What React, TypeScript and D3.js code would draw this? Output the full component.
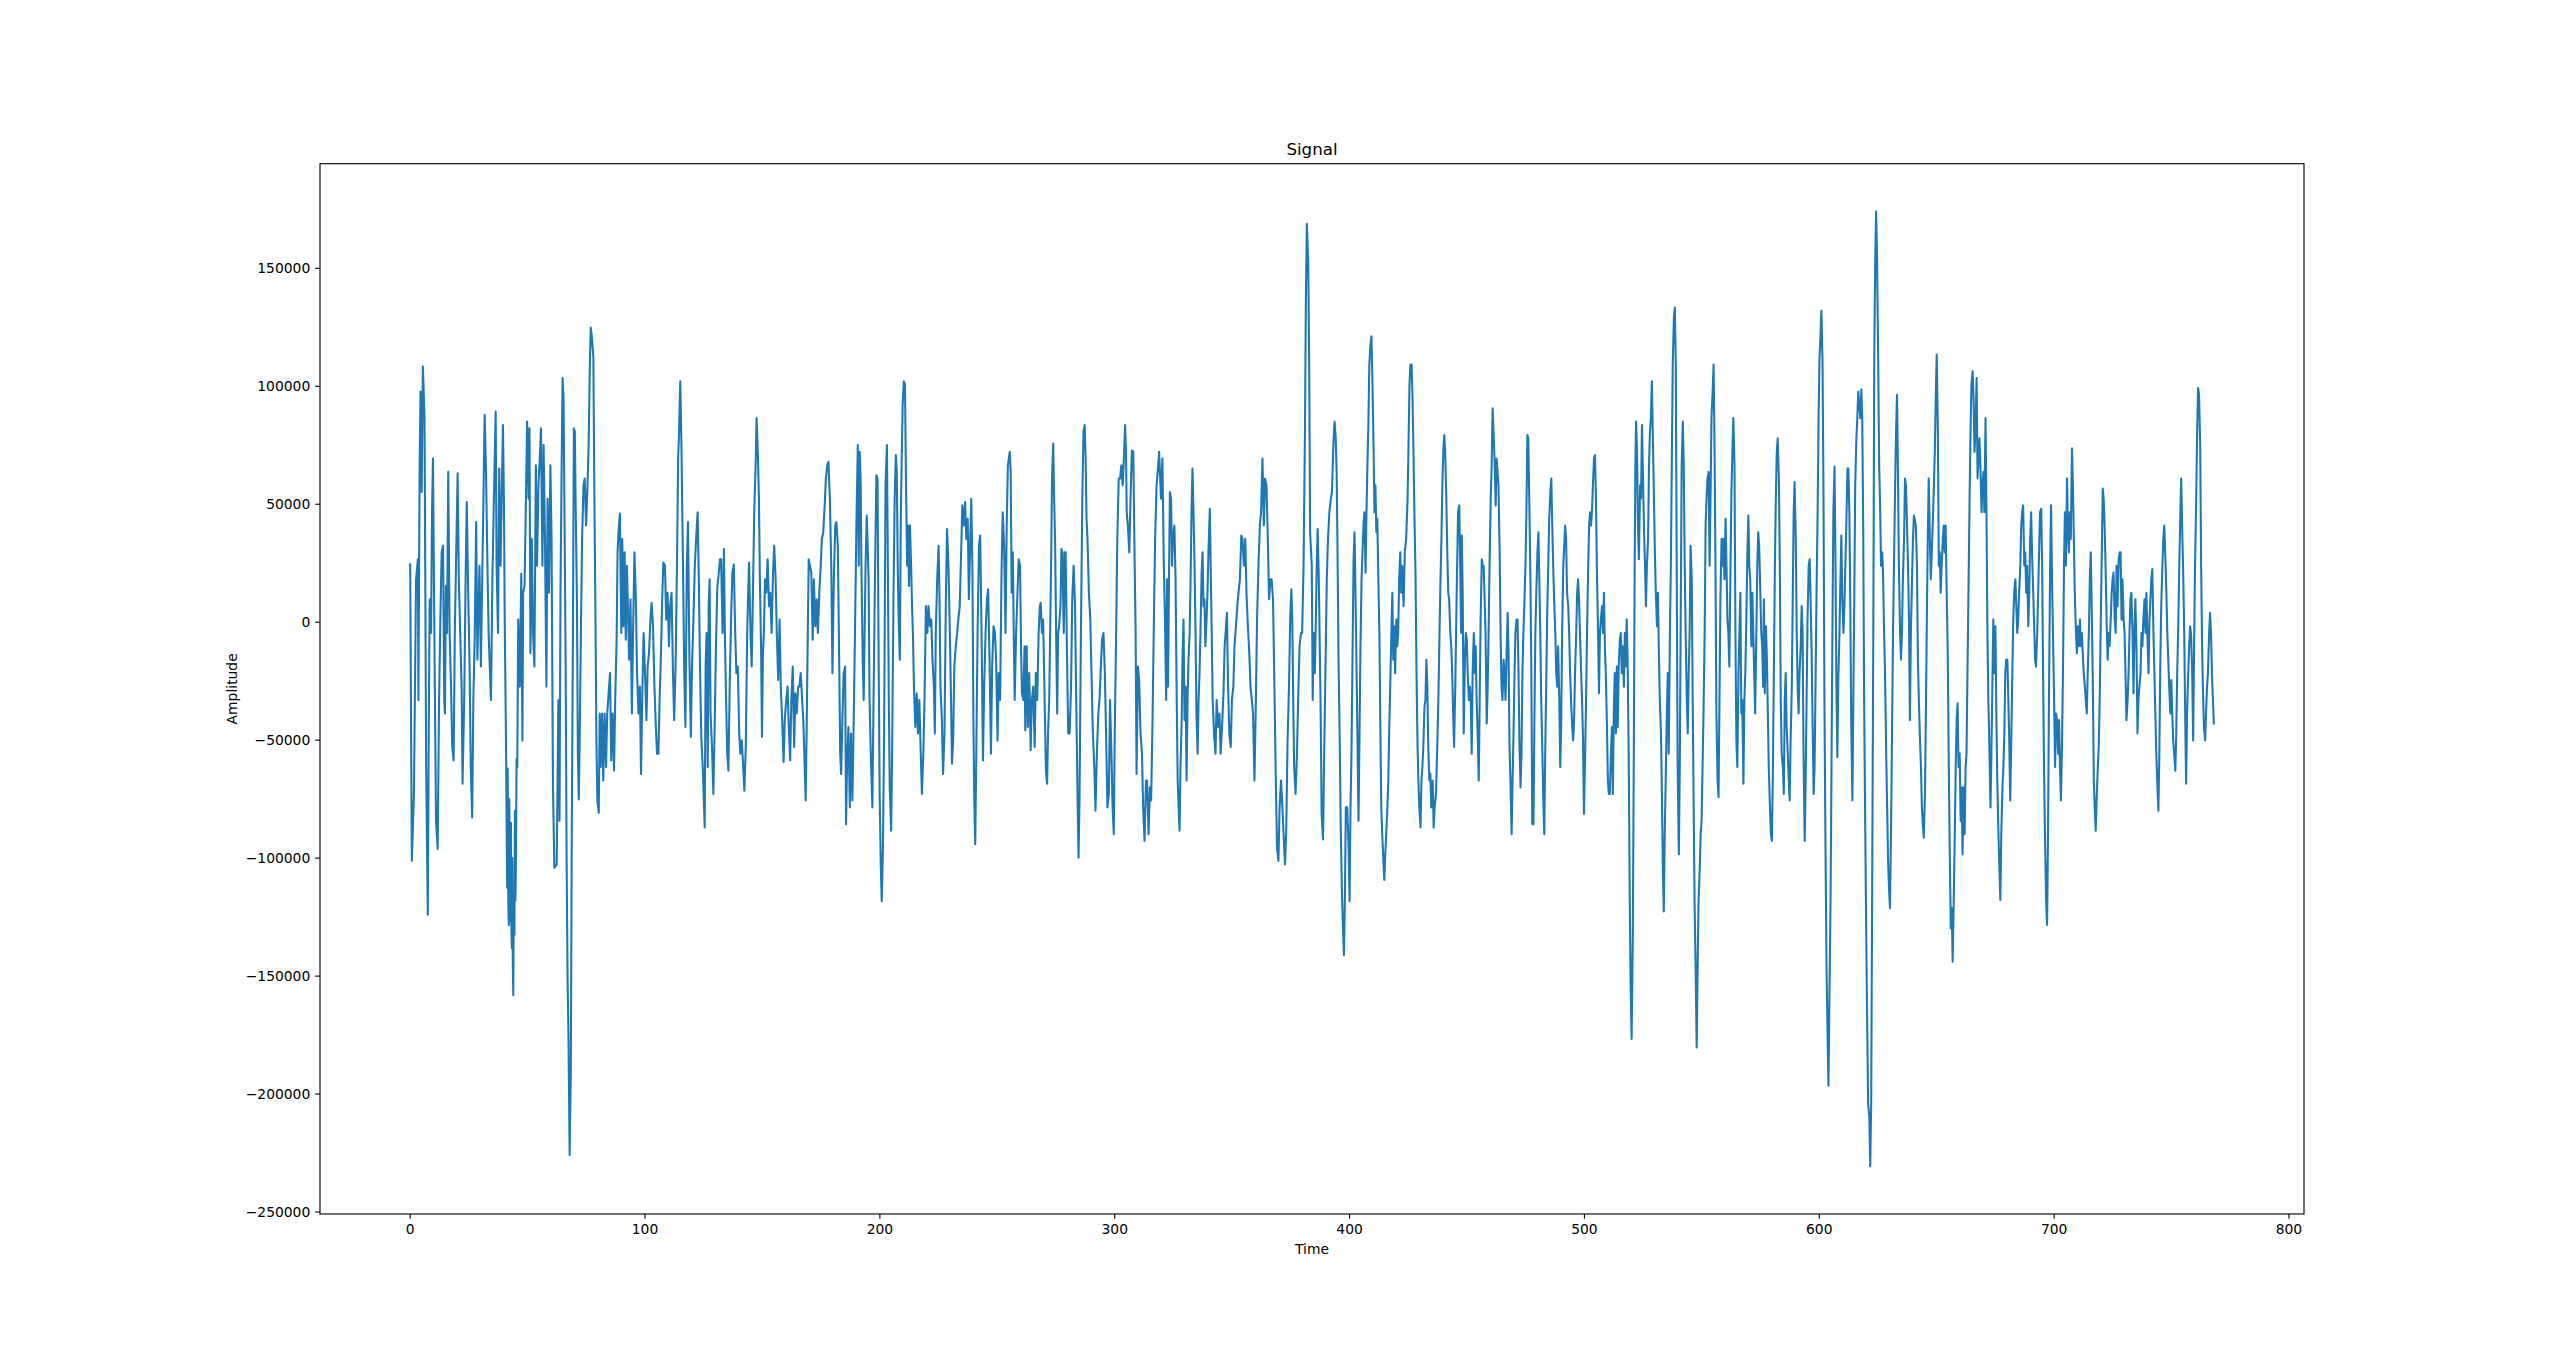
import React from 'react';
import * as d3 from 'd3';

const xTicks = [0, 100, 200, 300, 400, 500, 600, 700, 800];
const yTicks = [-250000, -200000, -150000, -100000, -50000, 0, 50000, 100000, 150000];
const chartTitle = 'Signal';
const xLabel = 'Time';
const yLabel = 'Amplitude';

// [time, amplitude]
const sig000: [number, number][] = [
[0,24500],[0.7,-101200],[1.6,-72800],[2.5,18200],[3.3,26700],[3.5,-33000],[4.0,63700],[4.4,97800],[4.9,55200],[5.4,108400],[6.1,86500],[6.4,23900],[6.8,-61400],[7.5,-124000],[7.9,-47200],[8.3,9700],[8.9,-4600],[9.3,46600],[9.7,69400],[10.3,-4600],[11.0,-84200],[11.7,-96100],[12.3,-33000],[12.8,-1700],[13.4,29600],[14.0,32400],[14.5,-33000],[14.8,-38700],[15.2,15400],[15.7,-4600],[16.2,63700],[16.8,-4600],[17.4,-27300],[17.9,-52900],[18.5,-58600],[19.0,-4600],[19.6,29600],[20.2,63100],[20.7,18200],[21.3,-4600],[21.9,-27300],[22.3,-68500],[23.0,-33000],[23.6,18200],[24.1,50900],[24.7,12500],[25.3,-18800],[25.8,-61400],[26.4,-82800],[26.9,-33000],[27.5,-4600],[28.1,42400],[28.6,-15900],[29.5,23900],[30.1,-18800],[30.8,26700],[31.2,52300],[31.7,87900],[32.3,63700],[32.9,23900],[33.4,-4600],[34.0,-21600],[34.4,-33000],[35.0,18200],[35.7,55200],[36.4,89300],[36.8,23900],[37.4,-4600],[37.9,65100],[38.5,23900],[38.9,49500],[39.5,83600],[39.9,52300],[40.3,-4600],[40.8,-50100],[41.1,-90000],[41.3,-112600],[41.5,-62000],[41.8,-120000],[42.0,-128300],[42.2,-75000],[42.5,-118000],[42.7,-126800],[42.9,-85000],[43.1,-130000],[43.3,-138200],[43.5,-100000],[43.7,-145000],[43.9,-158100],[44.1,-115000],[44.4,-132500],[44.6,-80000],[44.8,-118000],[45.0,-104100],[45.3,-58000],[45.6,-61400],[46.0,1100],[46.7,-27300],[47.3,20500],[47.8,-50100],[48.1,12500],[48.7,15400],[49.2,46600],[49.8,85000],[50.4,52300],[50.8,82200],[51.2,-13100],[51.8,35300],[52.3,-4600],[52.9,-18800],[53.5,66500],[54.0,23900],[54.6,58000],[55.2,69400],[55.7,82200],[56.3,23900],[56.8,75100],[57.4,35300],[58.0,-27300],[58.5,52300],[59.1,12500],[59.7,66500],[60.2,35300],[60.8,-70000],[61.4,-104100]
];

const sig062: [number, number][] = [
[62.4,-102700],[63.1,-33000],[63.6,-84200],[64.0,12500],[64.5,66500],[64.9,103500],[65.3,95000],[65.7,46600],[66.2,-18800],[66.6,-98400],[67.0,-149600],[67.4,-175200],[67.9,-225800],[68.4,-189400],[68.8,-89900],[69.3,-4600],[69.7,82200],[70.1,80800],[70.5,46600],[71.0,9700],[71.4,-55700],[71.8,-75100],[72.2,-47200],[72.7,-4600],[73.2,35300],[73.8,58000],[74.3,60900],[74.9,41000],[75.5,58000],[76.0,75100],[76.5,109200],[76.9,124900],[77.4,120600],[78.0,112100],[78.4,58000],[78.9,1100],[79.3,-50100],[79.7,-75600],[80.3,-80800],[80.7,-38700],[81.1,-61400],[81.7,-38700],[82.2,-67100],[82.8,-38700],[83.4,-61400],[83.9,-38700],[84.5,-30100],[85.1,-21600],[85.6,-58600],[86.2,-38700],[86.8,-62900],[87.3,-33000],[87.9,-7400],[88.3,29600],[88.7,38100],[89.3,46100],[89.9,-4600],[90.3,35300],[90.8,-1700],[91.3,29600],[91.8,-7400],[92.3,23900],[92.7,6800],[93.2,-15900],[93.8,9700],[94.4,-38700],[94.9,-4600],[95.5,29600],[96.1,9700],[96.6,-21600],[97.2,-38700],[97.8,-27300],[98.3,-64300],[98.9,-27300],[99.4,-4600],[100.0,-21600],[100.6,-41500],[101.1,-18800],[101.7,-13100],[102.3,1100],[102.8,8200],[103.4,-1700],[104.0,-27300],[104.5,-41500],[105.1,-55700],[105.7,-55700],[106.2,-33000],[106.8,-13100],[107.3,9700],[107.8,25300],[108.5,23900],[109.0,1100],[109.6,12500],[110.2,-10200],[110.7,6800],[111.3,12500],[111.9,-21600],[112.4,-41500],[113.0,-18800],[113.6,23900],[114.1,69400],[114.5,80800],[115.0,102100],[115.5,75100],[116.1,29600],[116.7,-21600],[117.2,-44400],[117.8,23900],[118.3,42400],[118.9,-15900],[119.5,-48600],[120.0,-18800],[120.6,1100],[121.2,23900],[121.9,38100],[122.4,46600],[122.9,18200],[123.4,-18800],[124.0,-50100],[124.6,-61400],[125.4,-87000],[125.8,-18800]
];

const sig126: [number, number][] = [
[126.2,-4600],[126.7,-61400],[127.1,6800],[127.5,18200],[127.9,-38700],[128.5,-52900],[129.1,-72800],[129.6,-47200],[130.2,-10200],[130.8,15400],[131.3,19600],[131.9,26700],[132.4,26700],[133.0,-4600],[133.6,31000],[134.0,-4600],[134.4,-27300],[135.0,-55700],[135.5,-62900],[136.1,-24500],[136.7,4000],[137.2,21000],[137.8,24500],[138.4,-4600],[138.9,-21600],[139.5,-18800],[140.1,-47200],[140.6,-55700],[141.2,-50100],[141.8,-61400],[142.3,-71400],[142.9,-52900],[143.5,-4600],[143.9,12500],[144.3,25300],[144.9,-4600],[145.4,-18800],[146.0,15400],[146.5,46600],[147.1,66500],[147.5,86500],[148.1,69400],[148.5,52300],[148.9,18200],[149.4,-10200],[149.8,-48600],[150.2,-13100],[150.6,-4600],[151.1,18200],[151.6,12500],[152.2,26700],[152.8,6800],[153.3,12500],[153.9,-4600],[154.5,21000],[155.0,32400],[155.6,18200],[156.1,-4600],[156.7,-24500],[157.3,1100],[157.8,-27300],[158.4,-41500],[159.0,-59200],[159.5,-41500],[160.1,-33000],[160.7,-27300],[161.2,-44400],[161.8,-58600],[162.3,-33000],[162.9,-18800],[163.5,-52900],[164.0,-30100],[164.6,-38700],[165.2,-27300],[165.7,-27300],[166.3,-21600],[166.9,-33000],[167.4,-41500],[168.0,-61400],[168.4,-75600],[168.8,-47200],[169.3,-4600],[169.7,26700],[170.2,23900],[170.8,21000],[171.4,-7400],[171.9,18200],[172.5,-1700],[173.1,9700],[173.6,-4600],[174.2,12500],[174.8,23900],[175.3,35300],[175.9,38100],[176.5,49500],[177.0,60900],[177.6,66500],[178.1,68000],[178.7,52300],[179.3,23900],[179.8,-21600],[180.4,18200],[181.0,41000],[181.5,42400],[182.1,32400],[182.7,-18800],[183.1,-55700],[183.5,-64300],[184.1,-38700],[184.6,-21600],[185.2,-18800],[185.6,-85600],[186.0,-61400],[186.6,-44400],[187.2,-78500],[187.7,-47200],[188.3,-75600],[188.9,-38700],[189.4,-4600],[190.0,41000]
];

const sig190: [number, number][] = [
[190.6,75100],[191.0,23900],[191.4,72200],[191.8,60900],[192.2,18200],[192.7,-15900],[193.1,-33000],[193.5,-4600],[193.9,23900],[194.4,45200],[194.8,32400],[195.2,18200],[195.6,-33000],[196.2,-58600],[196.8,-78500],[197.3,-33000],[197.9,18200],[198.5,62300],[199.0,60900],[199.4,-4600],[199.9,-72800],[200.4,-104100],[200.8,-118300],[201.3,-95600],[201.8,-47200],[202.4,58000],[203.0,75100],[203.4,23900],[203.8,-33000],[204.2,-70000],[204.8,-88400],[205.2,-55700],[205.8,12500],[206.3,52300],[206.8,70800],[207.2,63700],[207.6,23900],[208.0,1100],[208.5,-15900],[208.9,43800],[209.3,69400],[209.7,92100],[210.2,102100],[210.7,100700],[211.1,60900],[211.6,23900],[212.0,41000],[212.4,15400],[212.8,41000],[213.3,23900],[213.7,6800],[214.1,-6000],[214.5,-27300],[215.1,-44400],[215.7,-30100],[216.2,-47200],[216.8,-33000],[217.4,-55700],[217.9,-72800],[218.5,-55700],[219.0,-33000],[219.6,6800],[220.2,-4600],[220.7,6800],[221.3,-1700],[221.9,1100],[222.4,-15900],[223.0,-27300],[223.4,-47200],[223.8,-4600],[224.4,18200],[225.0,32400],[225.4,9700],[225.8,-27300],[226.4,-41500],[226.9,-64300],[227.5,-47200],[228.1,9700],[228.6,39500],[229.2,23900],[229.8,-4600],[230.3,-33000],[230.7,-60000],[231.2,-50100],[231.7,-18800],[232.3,-10200],[232.9,-4600],[233.4,1100],[234.0,6800],[234.6,29600],[235.1,49500],[235.7,41000],[236.3,50900],[236.8,35300],[237.4,43800],[237.9,9700],[238.5,35300],[238.9,52300],[239.4,23900],[239.8,-38700],[240.2,-75600],[240.6,-94100],[241.0,-61400],[241.6,-4600],[242.2,32400],[242.7,36700],[243.3,-4600],[243.9,-58600],[244.4,-27300],[245.0,-4600],[245.6,9700],[246.1,13900],[246.7,-15900],[247.3,-55700],[247.8,-18800],[248.4,-1700],[249.0,-4600],[249.5,-15900],[250.1,-50100],[250.6,-21600],[251.2,-33000],[251.8,21000],[252.3,46600],[252.9,32400],[253.5,-4600],[254.0,41000],[254.5,66500]
];

const sig255: [number, number][] = [
[255.3,72200],[255.7,63700],[256.1,12500],[256.6,29600],[257.0,-4600],[257.4,-33000],[258.0,-4600],[258.5,9700],[259.1,26700],[259.7,23900],[260.1,-10200],[260.5,-30100],[261.1,-33000],[261.6,-10200],[261.9,-45800],[262.5,-10200],[263.0,-44400],[263.6,-21600],[264.2,-54300],[264.7,-33000],[265.3,-27300],[265.9,-52900],[266.4,-21600],[267.0,-33000],[267.6,-4600],[268.1,6800],[268.5,8200],[269.0,-4600],[269.5,1100],[270.1,-30100],[270.7,-62900],[271.2,-68500],[271.6,-47200],[272.1,-33000],[272.5,-4600],[272.9,23900],[273.3,60900],[273.8,75700],[274.2,52300],[274.6,35300],[275.0,-1700],[275.5,-38700],[275.9,-4600],[276.3,-1700],[276.9,6800],[277.3,31000],[277.7,29600],[278.3,-4600],[278.7,29600],[279.1,29600],[279.7,-15900],[280.2,-47200],[280.8,-47200],[281.4,-27300],[281.9,9700],[282.5,23900],[283.1,6800],[283.6,-33000],[284.2,-75600],[284.6,-99800],[285.0,-75600],[285.6,-4600],[286.2,52300],[286.7,80800],[287.2,83600],[287.6,69400],[288.0,43800],[288.4,35300],[289.0,12500],[289.6,1100],[290.1,-21600],[290.7,-47200],[291.3,-61400],[291.8,-79900],[292.4,-55700],[293.0,-38700],[293.5,-33000],[294.1,-18800],[294.6,-7400],[295.2,-4600],[295.8,-21600],[296.3,-47200],[296.9,-78500],[297.5,-72800],[298.0,-33000],[298.6,-55700],[299.1,-78500],[299.6,-89900],[300.0,-47200],[300.6,-4600],[301.1,35300],[301.7,60900],[302.3,60900],[302.8,66500],[303.4,58000],[304.0,72200],[304.4,83600],[304.8,72200],[305.1,46600],[305.6,41000],[306.2,29600],[306.8,55200],[307.3,72800],[307.9,72200],[308.5,23900],[308.9,-4600],[309.3,-64300],[309.9,-18800],[310.4,-24500],[311.0,-47200],[311.6,-55700],[312.1,-78500],[312.7,-92700],[313.3,-67100],[313.8,-67100],[314.4,-89900],[315.0,-70000],[315.5,-75600],[316.1,-41500],[316.6,-4600],[317.2,35300],[317.8,58000],[318.3,63700],[318.9,72200]
];

const sig319: [number, number][] = [
[319.7,52300],[320.3,69400],[320.9,23900],[321.4,1100],[321.9,-33000],[322.3,18200],[322.7,-27300],[323.1,18200],[323.5,55200],[324.0,52300],[324.4,23900],[324.8,35300],[325.4,41000],[325.9,18200],[326.4,-33000],[326.8,-67100],[327.2,-78500],[327.6,-88400],[328.0,-61400],[328.5,-41500],[328.9,-13100],[329.3,1100],[329.7,-41500],[330.2,-27300],[330.6,-67100],[331.0,-33000],[331.4,-15900],[331.9,-4600],[332.3,18200],[332.7,46600],[333.1,65100],[333.6,43800],[334.0,23900],[334.4,-4600],[334.8,-38700],[335.3,-55700],[335.7,-33000],[336.1,-21600],[336.5,-4600],[337.0,21000],[337.4,29600],[337.8,6800],[338.2,9700],[338.6,-10200],[339.1,1100],[339.5,12500],[339.9,29600],[340.5,48100],[340.9,21000],[341.3,-4600],[341.7,-33000],[342.3,-47200],[342.9,-55700],[343.4,-33000],[344.0,-44400],[344.6,-38700],[345.1,-55700],[345.7,-44400],[346.3,-30100],[346.8,-10200],[347.4,-1700],[347.8,4000],[348.2,-24500],[348.8,-47200],[349.4,-52900],[349.9,-33000],[350.5,-27300],[351.0,-10200],[351.6,-1700],[352.2,6800],[352.7,12500],[353.3,18200],[353.9,36700],[354.4,35300],[355.0,23900],[355.6,35300],[356.1,12500],[356.7,-1700],[357.3,-13100],[357.8,-27300],[358.4,-33000],[358.9,-38700],[359.5,-67100],[360.1,-33000],[360.6,1100],[361.2,23900],[361.8,41000],[362.3,46600],[362.9,69400],[363.5,41000],[364.0,60900],[364.6,58000],[365.2,35300],[365.7,9700],[366.3,18200],[366.8,18200],[367.4,9700],[368.0,-27300],[368.5,-61400],[369.1,-95600],[369.7,-101200],[370.2,-78500],[370.8,-67100],[371.4,-78500],[371.9,-89900],[372.5,-102700],[373.0,-89900],[373.6,-50100],[374.2,-27300],[374.7,1100],[375.2,13900],[375.6,1100],[376.0,-33000],[376.4,-61400],[377.0,-72800],[377.6,-55700],[378.1,-33000],[378.7,-10200],[379.3,-4600],[379.8,-4600],[380.4,23900],[381.0,80800],[381.4,137600],[381.8,168900],[382.4,151900],[382.8,109200],[383.2,38100]
];

const sig384: [number, number][] = [
[383.9,23900],[384.3,-33000],[384.7,-4600],[385.2,-21600],[385.6,-1700],[386.0,23900],[386.4,39500],[386.9,18200],[387.3,-10200],[387.7,-38700],[388.1,-81300],[388.7,-92100],[389.1,-61400],[389.7,-21600],[390.3,18200],[390.8,35300],[391.4,46600],[392.0,52300],[392.5,55200],[393.1,75100],[393.6,85000],[394.1,77900],[394.5,63700],[394.9,26700],[395.3,-15900],[395.8,-50100],[396.2,-84200],[396.7,-112600],[397.2,-129700],[397.6,-141100],[398.0,-118300],[398.4,-78500],[399.0,-78500],[399.6,-95600],[400.0,-118300],[400.4,-78500],[400.8,-55700],[401.3,-10200],[401.7,26700],[402.1,38100],[402.5,12500],[403.0,-21600],[403.4,-52900],[403.8,-84200],[404.2,-50100],[404.6,-13100],[405.1,18200],[405.5,29600],[405.9,41000],[406.3,46600],[406.8,21000],[407.2,46600],[407.6,66500],[408.0,83600],[408.4,109200],[408.9,117700],[409.3,121200],[409.7,103500],[410.1,80800],[410.6,46600],[411.0,58000],[411.4,38100],[411.8,43800],[412.3,15400],[412.7,-4600],[413.1,-44400],[413.5,-78500],[413.9,-89900],[414.4,-101200],[414.8,-109200],[415.2,-98400],[415.6,-89900],[416.1,-78500],[416.5,-67100],[416.9,-44400],[417.3,-27300],[417.8,-4600],[418.2,12500],[418.6,-15900],[419.0,-1700],[419.4,-21600],[419.9,1100],[420.3,-10200],[420.7,-4600],[421.1,18200],[421.6,29600],[422.0,12500],[422.4,23900],[423.0,6800],[423.5,29600],[424.1,35300],[424.7,52300],[425.1,75100],[425.5,100700],[425.9,109200],[426.4,109200],[426.8,95000],[427.2,72200],[427.6,46600],[428.1,18200],[428.5,-21600],[428.9,-50100],[429.3,-67100],[429.7,-78500],[430.2,-87000],[430.6,-67100],[431.0,-61400],[431.4,-52900],[431.9,-35800],[432.3,-33000],[432.7,-15900],[433.1,-27300],[433.5,-52900],[434.0,-67100],[434.4,-64300],[434.8,-78500],[435.4,-67100],[435.8,-87000],[436.2,-78500],[436.8,-72800],[437.4,-50100],[437.8,-33000],[438.2,-10200],[438.6,12500],[439.1,35300],[439.5,58000],[439.9,72200],[440.3,79300],[440.7,72200],[441.2,52300],[441.6,29600],[442.0,12500],[442.4,9700],[442.9,-4600],[443.3,-10200],[443.7,-21600],[444.1,-38700],[444.5,-52900],[445.0,-27300],[445.4,-1700],[445.8,23900],[446.2,46600],[446.7,49500],[447.1,23900],[447.5,-4600]
];

const sig448: [number, number][] = [
[447.8,36700],[448.2,9700],[448.6,-47200],[449.1,-15900],[449.5,-4600],[449.9,-7400],[450.3,-21600],[450.8,-33000],[451.2,-27300],[451.6,-33000],[452.0,-55700],[452.4,-21600],[452.9,-4600],[453.3,-21600],[453.7,-10200],[454.1,-33000],[454.6,-50100],[455.0,-67100],[455.4,-33000],[455.8,1100],[456.3,26700],[456.7,23900],[457.1,23900],[457.5,9700],[457.9,-4600],[458.4,-42900],[458.8,-27300],[459.2,-4600],[459.6,23900],[460.1,52300],[460.5,66500],[460.9,90700],[461.3,80800],[461.8,66500],[462.2,49500],[462.6,69400],[463.0,63700],[463.4,58000],[463.9,29600],[464.3,-4600],[464.7,-27300],[465.1,-33000],[465.6,-15900],[466.0,-21600],[466.4,-33000],[466.8,-15900],[467.3,4000],[467.7,-13100],[468.1,-52900],[468.5,-67100],[469.0,-89900],[469.4,-67100],[469.8,-47200],[470.2,-24500],[470.6,-4600],[471.1,1100],[471.5,1100],[471.9,-18800],[472.3,-50100],[472.8,-70000],[473.2,-55700],[473.6,-21600],[474.0,-4600],[474.5,9700],[474.9,23900],[475.3,46600],[475.7,79300],[476.1,77900],[476.6,46600],[477.0,18200],[477.4,-21600],[477.8,-85600],[478.3,-85600],[478.7,-41500],[479.1,-4600],[479.5,12500],[480.0,29600],[480.4,38100],[480.8,18200],[481.2,-4600],[481.6,-33000],[482.1,-55700],[482.5,-75600],[482.9,-89900],[483.3,-55700],[483.8,-21600],[484.2,6800],[484.6,23900],[485.0,43800],[485.5,55200],[485.9,60900],[486.3,41000],[486.7,23900],[487.1,9700],[487.6,-4600],[488.0,-21600],[488.4,-27300],[488.8,-10200],[489.3,-33000],[489.7,-61400],[490.1,-44400],[490.5,-4600],[491.0,23900],[491.4,32400],[491.8,41000],[492.2,35300],[492.6,12500],[493.1,6800],[493.5,-4600],[493.9,-21600],[494.3,-33000],[494.8,-44400],[495.2,-50100],[495.6,-41500],[496.0,-21600],[496.5,-4600],[496.9,12500],[497.3,18200],[497.7,9700],[498.1,-4600],[498.6,-21600],[499.0,-33000],[499.4,-50100],[499.8,-81300],[500.3,-55700],[500.7,-33000],[501.1,-4600],[501.5,18200],[502.0,41000],[502.4,46600],[502.8,41000],[503.2,46600],[503.6,58000],[504.1,69400],[504.5,70800],[504.9,52300],[505.3,23900],[505.8,-4600],[506.2,-30100],[506.6,-4600],[507.0,1100],[507.5,6800],[507.9,-4600],[508.3,12500],[508.7,-10200],[509.1,-21600],[509.6,-44400],[510.0,-67100],[510.4,-72800],[510.8,-72800],[511.3,-55700],[511.7,-44400]
];

const sig512: [number, number][] = [
[512.1,-72800],[512.5,-38700],[512.9,-21600],[513.4,-47200],[513.8,-18800],[514.2,-44400],[514.6,-18800],[515.1,-7400],[515.5,-4600],[515.9,-21600],[516.3,-10200],[516.8,-27300],[517.2,-4600],[517.6,-18800],[518.0,1100],[518.4,-15900],[518.9,-61400],[519.3,-118300],[519.7,-155300],[520.1,-176600],[520.6,-132500],[521.0,-61400],[521.4,23900],[521.7,66500],[522.0,85000],[522.4,72200],[522.8,41000],[523.2,26700],[523.7,58000],[524.1,52300],[524.5,83600],[524.9,63700],[525.4,38100],[525.8,23900],[526.2,6800],[526.6,23900],[527.1,35300],[527.5,66500],[527.9,80800],[528.3,86500],[528.7,102100],[529.2,75100],[529.6,52300],[530.0,29600],[530.4,12500],[530.9,-1700],[531.3,12500],[531.7,-13100],[532.1,-33000],[532.6,-47200],[533.0,-72800],[533.4,-104100],[533.8,-122600],[534.2,-89900],[534.7,-61400],[535.1,-38700],[535.5,-21600],[535.9,-55700],[536.4,-4600],[536.8,23900],[537.2,66500],[537.6,109200],[538.1,129100],[538.5,133400],[538.9,109200],[539.3,23900],[539.7,-61400],[540.2,-98400],[540.6,-61400],[541.0,1100],[541.4,66500],[541.9,85000],[542.3,66500],[542.7,23900],[543.1,-4600],[543.6,-33000],[544.0,-47200],[544.4,-21600],[544.8,-4600],[545.2,32400],[545.7,18200],[546.1,-33000],[546.5,-75600],[546.9,-118300],[547.4,-149600],[547.8,-180300],[548.2,-146800],[548.6,-118300],[549.1,-104100],[549.5,-89900],[549.9,-84200],[550.3,-61400],[550.7,-38700],[551.2,-4600],[551.6,41000],[552.0,52300],[552.4,60900],[552.9,63700],[553.3,23900],[553.7,52300],[554.1,86500],[554.6,97800],[555.0,109200],[555.4,75100],[555.8,23900],[556.2,-38700],[556.7,-67100],[557.1,-74200],[557.5,-33000],[557.9,9700],[558.4,35300],[558.8,23900],[559.2,35300],[559.6,18200],[560.1,43800],[560.5,23900],[560.9,1100],[561.3,-4600],[561.7,-18800],[562.2,23900],[562.6,55200],[563.0,72200],[563.4,86500],[563.9,66500],[564.3,-4600],[564.7,-50100],[565.1,-61400],[565.6,-21600],[566.0,-4600],[566.4,12500],[566.8,-38700],[567.2,-33000],[567.7,-68500],[568.1,-33000],[568.5,-21600],[568.9,-1700],[569.4,29600],[569.8,45200],[570.2,23900],[570.6,18200],[571.1,-10200],[571.5,12500],[571.9,-4600],[572.3,-21600],[572.7,-38700],[573.2,-4600],[573.6,23900],[574.0,38100],[574.4,32400],[574.9,12500],[575.3,-4600],[575.7,-10200],[576.1,-27300]
];

const sig576: [number, number][] = [
[576.4,9700],[576.8,-30100],[577.3,-1700],[577.7,-15900],[578.1,-38700],[578.5,-61400],[579.0,-78500],[579.4,-89900],[579.8,-92700],[580.2,-67100],[580.6,-27300],[581.1,23900],[581.5,52300],[581.9,72200],[582.3,77900],[582.8,60900],[583.2,23900],[583.6,-33000],[584.0,-55700],[584.5,-61400],[584.9,-72800],[585.3,-33000],[585.7,-21600],[586.1,-44400],[586.6,-55700],[587.0,-67100],[587.4,-75600],[587.8,-50100],[588.3,-27300],[588.7,9700],[589.1,46600],[589.5,59400],[590.0,35300],[590.4,-4600],[590.8,-27300],[591.2,-38700],[591.6,-21600],[592.1,-10200],[592.5,6800],[592.9,-4600],[593.3,-55700],[593.8,-92700],[594.2,-67100],[594.6,-33000],[595.0,1100],[595.5,23900],[595.9,26700],[596.3,9700],[596.7,-10200],[597.1,-38700],[597.6,-72800],[598.0,-61400],[598.4,-27300],[598.8,9700],[599.3,46600],[599.7,86500],[600.1,112100],[600.5,120600],[600.9,132000],[601.4,109200],[601.8,52300],[602.2,-33000],[602.6,-89900],[603.1,-146800],[603.5,-172300],[603.9,-196500],[604.3,-161000],[604.8,-118300],[605.2,-61400],[605.6,-4600],[606.0,46600],[606.5,66000],[606.9,23900],[607.3,-27300],[607.7,-57200],[608.1,-24500],[608.6,-4600],[609.0,18200],[609.4,36700],[609.8,9700],[610.3,-4600],[610.7,6800],[611.1,23900],[611.5,41000],[612.0,65100],[612.4,65100],[612.8,46600],[613.2,9700],[613.6,-41500],[614.1,-75600],[614.5,-33000],[614.9,9700],[615.3,58000],[615.8,77900],[616.2,86500],[616.6,97800],[617.0,92100],[617.5,86500],[617.9,98700],[618.3,86500],[618.7,41000],[619.1,-33000],[619.6,-89900],[620.0,-132500],[620.4,-169500],[620.8,-204300],[621.3,-209300],[621.7,-230600],[622.1,-204300],[622.5,-118300],[623.0,-4600],[623.4,109200],[623.8,151900],[624.2,174100],[624.6,154700],[625.1,109200],[625.5,66500],[625.9,49500],[626.3,23900],[626.8,29600],[627.2,18200],[627.6,-4600],[628.0,-21600],[628.5,-55700],[628.9,-78500],[629.3,-101200],[629.7,-112600],[630.1,-121200],[630.6,-84200],[631.0,-44400],[631.4,-4600],[631.8,23900],[632.3,58000],[632.7,80800],[633.1,96400],[633.5,63700],[633.9,23900],[634.4,-4600],[634.8,-15900],[635.2,-4600],[635.6,18200],[636.1,35300],[636.5,60900],[636.9,58000],[637.3,43800],[637.8,23900],[638.2,1100],[638.6,-41500],[639.0,-4600],[639.5,18200],[639.9,35300],[640.3,45200]
];

const sig641: [number, number][] = [
[641.1,41000],[641.6,23900],[642.0,-15900],[642.4,-33000],[642.8,-47200],[643.3,-61400],[643.7,-78500],[644.1,-85600],[644.5,-91300],[645.0,-72800],[645.4,-38700],[645.8,1100],[646.2,35300],[646.6,60900],[647.1,35300],[647.5,18200],[647.9,29600],[648.3,41000],[648.8,58000],[649.2,72200],[649.6,95000],[650.0,113500],[650.5,80800],[650.9,23900],[651.3,29600],[651.7,12500],[652.1,23900],[652.6,35300],[653.0,41000],[653.4,29600],[653.8,41000],[654.3,9700],[654.7,-13100],[655.1,-55700],[655.5,-92700],[656.0,-129700],[656.4,-121200],[656.8,-143900],[657.2,-121200],[657.7,-89900],[658.1,-61400],[658.5,-41500],[658.9,-34400],[659.3,-61400],[659.8,-55700],[660.2,-84200],[660.6,-70000],[661.0,-98400],[661.5,-70000],[661.9,-89900],[662.3,-61400],[662.7,-55700],[663.1,-21600],[663.6,18200],[664.0,52300],[664.4,80800],[664.8,100700],[665.3,106400],[665.7,95000],[666.1,72200],[666.5,80800],[667.0,103500],[667.4,60900],[667.8,69400],[668.2,77900],[668.6,66500],[669.1,46600],[669.5,58000],[669.9,63700],[670.3,46600],[670.8,86500],[671.2,46600],[671.6,-4600],[672.0,-33000],[672.5,-55700],[672.9,-78500],[673.3,-55700],[673.7,-27300],[674.1,1100],[674.6,-21600],[675.0,-1700],[675.4,-38700],[675.8,-67100],[676.3,-89900],[676.7,-104100],[677.1,-117700],[677.5,-89900],[678.0,-70000],[678.4,-61400],[678.8,-47200],[679.2,-21600],[679.6,-15900],[680.1,-15900],[680.5,-33000],[680.9,-50100],[681.3,-75600],[681.8,-47200],[682.2,-21600],[682.6,1100],[683.0,12500],[683.5,18200],[683.9,6800],[684.3,-4600],[684.7,1100],[685.1,12500],[685.6,23900],[686.0,41000],[686.4,46600],[686.8,49500],[687.3,23900],[687.7,29600],[688.1,12500],[688.5,23900],[689.0,-1700],[689.4,12500],[689.8,35300],[690.2,46600],[690.6,29600],[691.1,12500],[691.5,-1700],[691.9,-15900],[692.3,-18800],[692.8,-4600],[693.2,12500],[693.6,29600],[694.0,46600],[694.5,48100],[694.9,23900],[695.3,-21600],[695.7,-61400],[696.1,-89900],[696.6,-118300],[697.0,-128300],[697.4,-89900],[697.8,-33000],[698.3,23900],[698.7,49500],[699.1,18200],[699.5,-4600],[700.0,-33000],[700.4,-61400],[700.8,-38700],[701.2,-41500],[701.7,-55700],[702.1,-41500],[702.5,-61400],[702.9,-75600],[703.3,-55700],[703.8,-18800],[704.2,23900],[704.6,46600]
];

const sig705: [number, number][] = [
[705.0,23900],[705.5,60900],[705.9,38100],[706.3,29600],[706.7,46600],[707.1,35300],[707.6,73700],[708.0,58000],[708.4,35300],[708.8,12500],[709.3,-4600],[709.7,-13100],[710.1,-1700],[710.5,-10200],[711.0,1100],[711.4,-10200],[711.8,-4600],[712.2,-13100],[712.6,-21600],[713.1,-27300],[713.5,-33000],[713.9,-38700],[714.3,-21600],[714.8,-4600],[715.2,18200],[715.6,29600],[716.0,6800],[716.5,-27300],[716.9,-67100],[717.3,-78500],[717.7,-88400],[718.1,-75600],[718.6,-61400],[719.0,-52900],[719.4,-33000],[719.8,-4600],[720.3,29600],[720.7,56600],[721.1,52300],[721.5,41000],[721.9,23900],[722.4,-1700],[722.8,-15900],[723.2,-4600],[723.6,-10200],[724.1,1100],[724.5,12500],[724.9,18200],[725.3,21000],[725.8,1100],[726.2,-4600],[726.6,23900],[727.0,6800],[727.5,26700],[727.9,29600],[728.3,29600],[728.7,1100],[729.1,18200],[729.6,1100],[730.0,-4600],[730.4,-21600],[730.8,-41500],[731.3,-33000],[731.7,-21600],[732.1,-4600],[732.5,9700],[732.9,12500],[733.4,-4600],[733.8,-30100],[734.2,-4600],[734.6,9700],[735.1,-13100],[735.5,-47200],[735.9,-33000],[736.3,-27300],[736.8,-21600],[737.2,-4600],[737.6,-10200],[738.0,1100],[738.5,9700],[738.9,-4600],[739.3,12500],[739.7,-4600],[740.2,-21600],[740.6,1100],[741.0,9700],[741.4,18200],[741.8,22500],[742.3,-4600],[742.7,-21600],[743.1,-38700],[743.5,-55700],[743.9,-67100],[744.4,-79900],[744.8,-55700],[745.2,-18800],[745.6,6800],[746.1,23900],[746.5,35300],[746.9,41000],[747.3,29600],[747.8,12500],[748.2,-4600],[748.6,-15900],[749.0,-27300],[749.5,-38700],[749.9,-24500],[750.3,-38700],[750.7,-50100],[751.1,-55700],[751.6,-62900],[752.0,-47200],[752.4,-21600],[752.8,-4600],[753.3,23900],[753.7,43800],[754.1,60900],[754.5,41000],[754.9,23900],[755.4,-4600],[755.8,-38700],[756.2,-68500],[756.6,-38700],[757.1,-21600],[757.5,-10200],[757.9,-1700],[758.3,-4600],[758.8,-21600],[759.2,-50100],[759.6,-10200],[760.0,23900],[760.5,52300],[760.9,80800],[761.3,99300],[761.7,96400],[762.2,75100],[762.6,23900],[763.0,-10200],[763.4,-30100],[763.8,-44400],[764.3,-50100],[764.7,-38700],[765.1,-27300],[765.5,-21600],[766.0,-4600],[766.4,4000],[766.8,-4600],[767.2,-21600],[768.0,-42900]
];

const signal: [number, number][] = [
  ...sig000, ...sig062, ...sig126, ...sig190, ...sig255, ...sig319,
  ...sig384, ...sig448, ...sig512, ...sig576, ...sig641, ...sig705,
];

const W = 2560;
const H = 1364;
const PLOT = { left: 320, right: 2304, top: 163.7, bottom: 1214 };
const FONT = '"DejaVu Sans", sans-serif';
const LINE_COLOR = '#1f77b4';

const fmt = (v: number) => (v < 0 ? '\u2212' + String(-v) : String(v));

export default function App() {
  const [tMin, tMax] = d3.extent(signal, (d) => d[0]) as [number, number];
  const [vMin, vMax] = d3.extent(signal, (d) => d[1]) as [number, number];
  const tPad = (tMax - tMin) * 0.05;
  const vPad = (vMax - vMin) * 0.05;

  const x = d3.scaleLinear().domain([tMin - tPad, tMax + tPad]).range([PLOT.left, PLOT.right]);
  const y = d3.scaleLinear().domain([vMin - vPad, vMax + vPad]).range([PLOT.bottom, PLOT.top]);

  const path = d3
    .line<[number, number]>()
    .x((d) => x(d[0]))
    .y((d) => y(d[1]))(signal) as string;

  const tickLen = 4.86;
  const pad = 4.86;
  const cx = (PLOT.left + PLOT.right) / 2;
  const cy = (PLOT.top + PLOT.bottom) / 2;

  return (
    <svg
      width={W}
      height={H}
      viewBox={`0 0 ${W} ${H}`}
      style={{ position: 'absolute', left: 0, top: 0, background: '#fff' }}
      fontFamily={FONT}
    >
      <rect x={0} y={0} width={W} height={H} fill="#fff" />
      <defs>
        <clipPath id="plotClip">
          <rect x={PLOT.left} y={PLOT.top} width={PLOT.right - PLOT.left} height={PLOT.bottom - PLOT.top} />
        </clipPath>
      </defs>
      <path
        d={path}
        fill="none"
        stroke={LINE_COLOR}
        strokeWidth={2.08}
        strokeLinejoin="round"
        strokeLinecap="square"
        clipPath="url(#plotClip)"
      />
      <rect
        x={PLOT.left}
        y={PLOT.top}
        width={PLOT.right - PLOT.left}
        height={PLOT.bottom - PLOT.top}
        fill="none"
        stroke="#000"
        strokeWidth={1.11}
      />
      {xTicks.map((t) => (
        <g key={'x' + t}>
          <line x1={x(t)} x2={x(t)} y1={PLOT.bottom} y2={PLOT.bottom + tickLen} stroke="#000" strokeWidth={1.11} />
          <text x={x(t)} y={PLOT.bottom + tickLen + pad + 10.6} fontSize={13.89} textAnchor="middle" fill="#000">
            {fmt(t)}
          </text>
        </g>
      ))}
      {yTicks.map((v) => (
        <g key={'y' + v}>
          <line x1={PLOT.left - tickLen} x2={PLOT.left} y1={y(v)} y2={y(v)} stroke="#000" strokeWidth={1.11} />
          <text x={PLOT.left - tickLen - pad} y={y(v) + 5} fontSize={13.89} textAnchor="end" fill="#000">
            {fmt(v)}
          </text>
        </g>
      ))}
      <text x={cx} y={PLOT.top - 8.33} fontSize={16.67} textAnchor="middle" fill="#000">
        {chartTitle}
      </text>
      <text x={cx} y={1254} fontSize={13.89} textAnchor="middle" fill="#000">
        {xLabel}
      </text>
      <text
        transform={`translate(237, ${cy}) rotate(-90)`}
        fontSize={13.89}
        textAnchor="middle"
        fill="#000"
      >
        {yLabel}
      </text>
    </svg>
  );
}
